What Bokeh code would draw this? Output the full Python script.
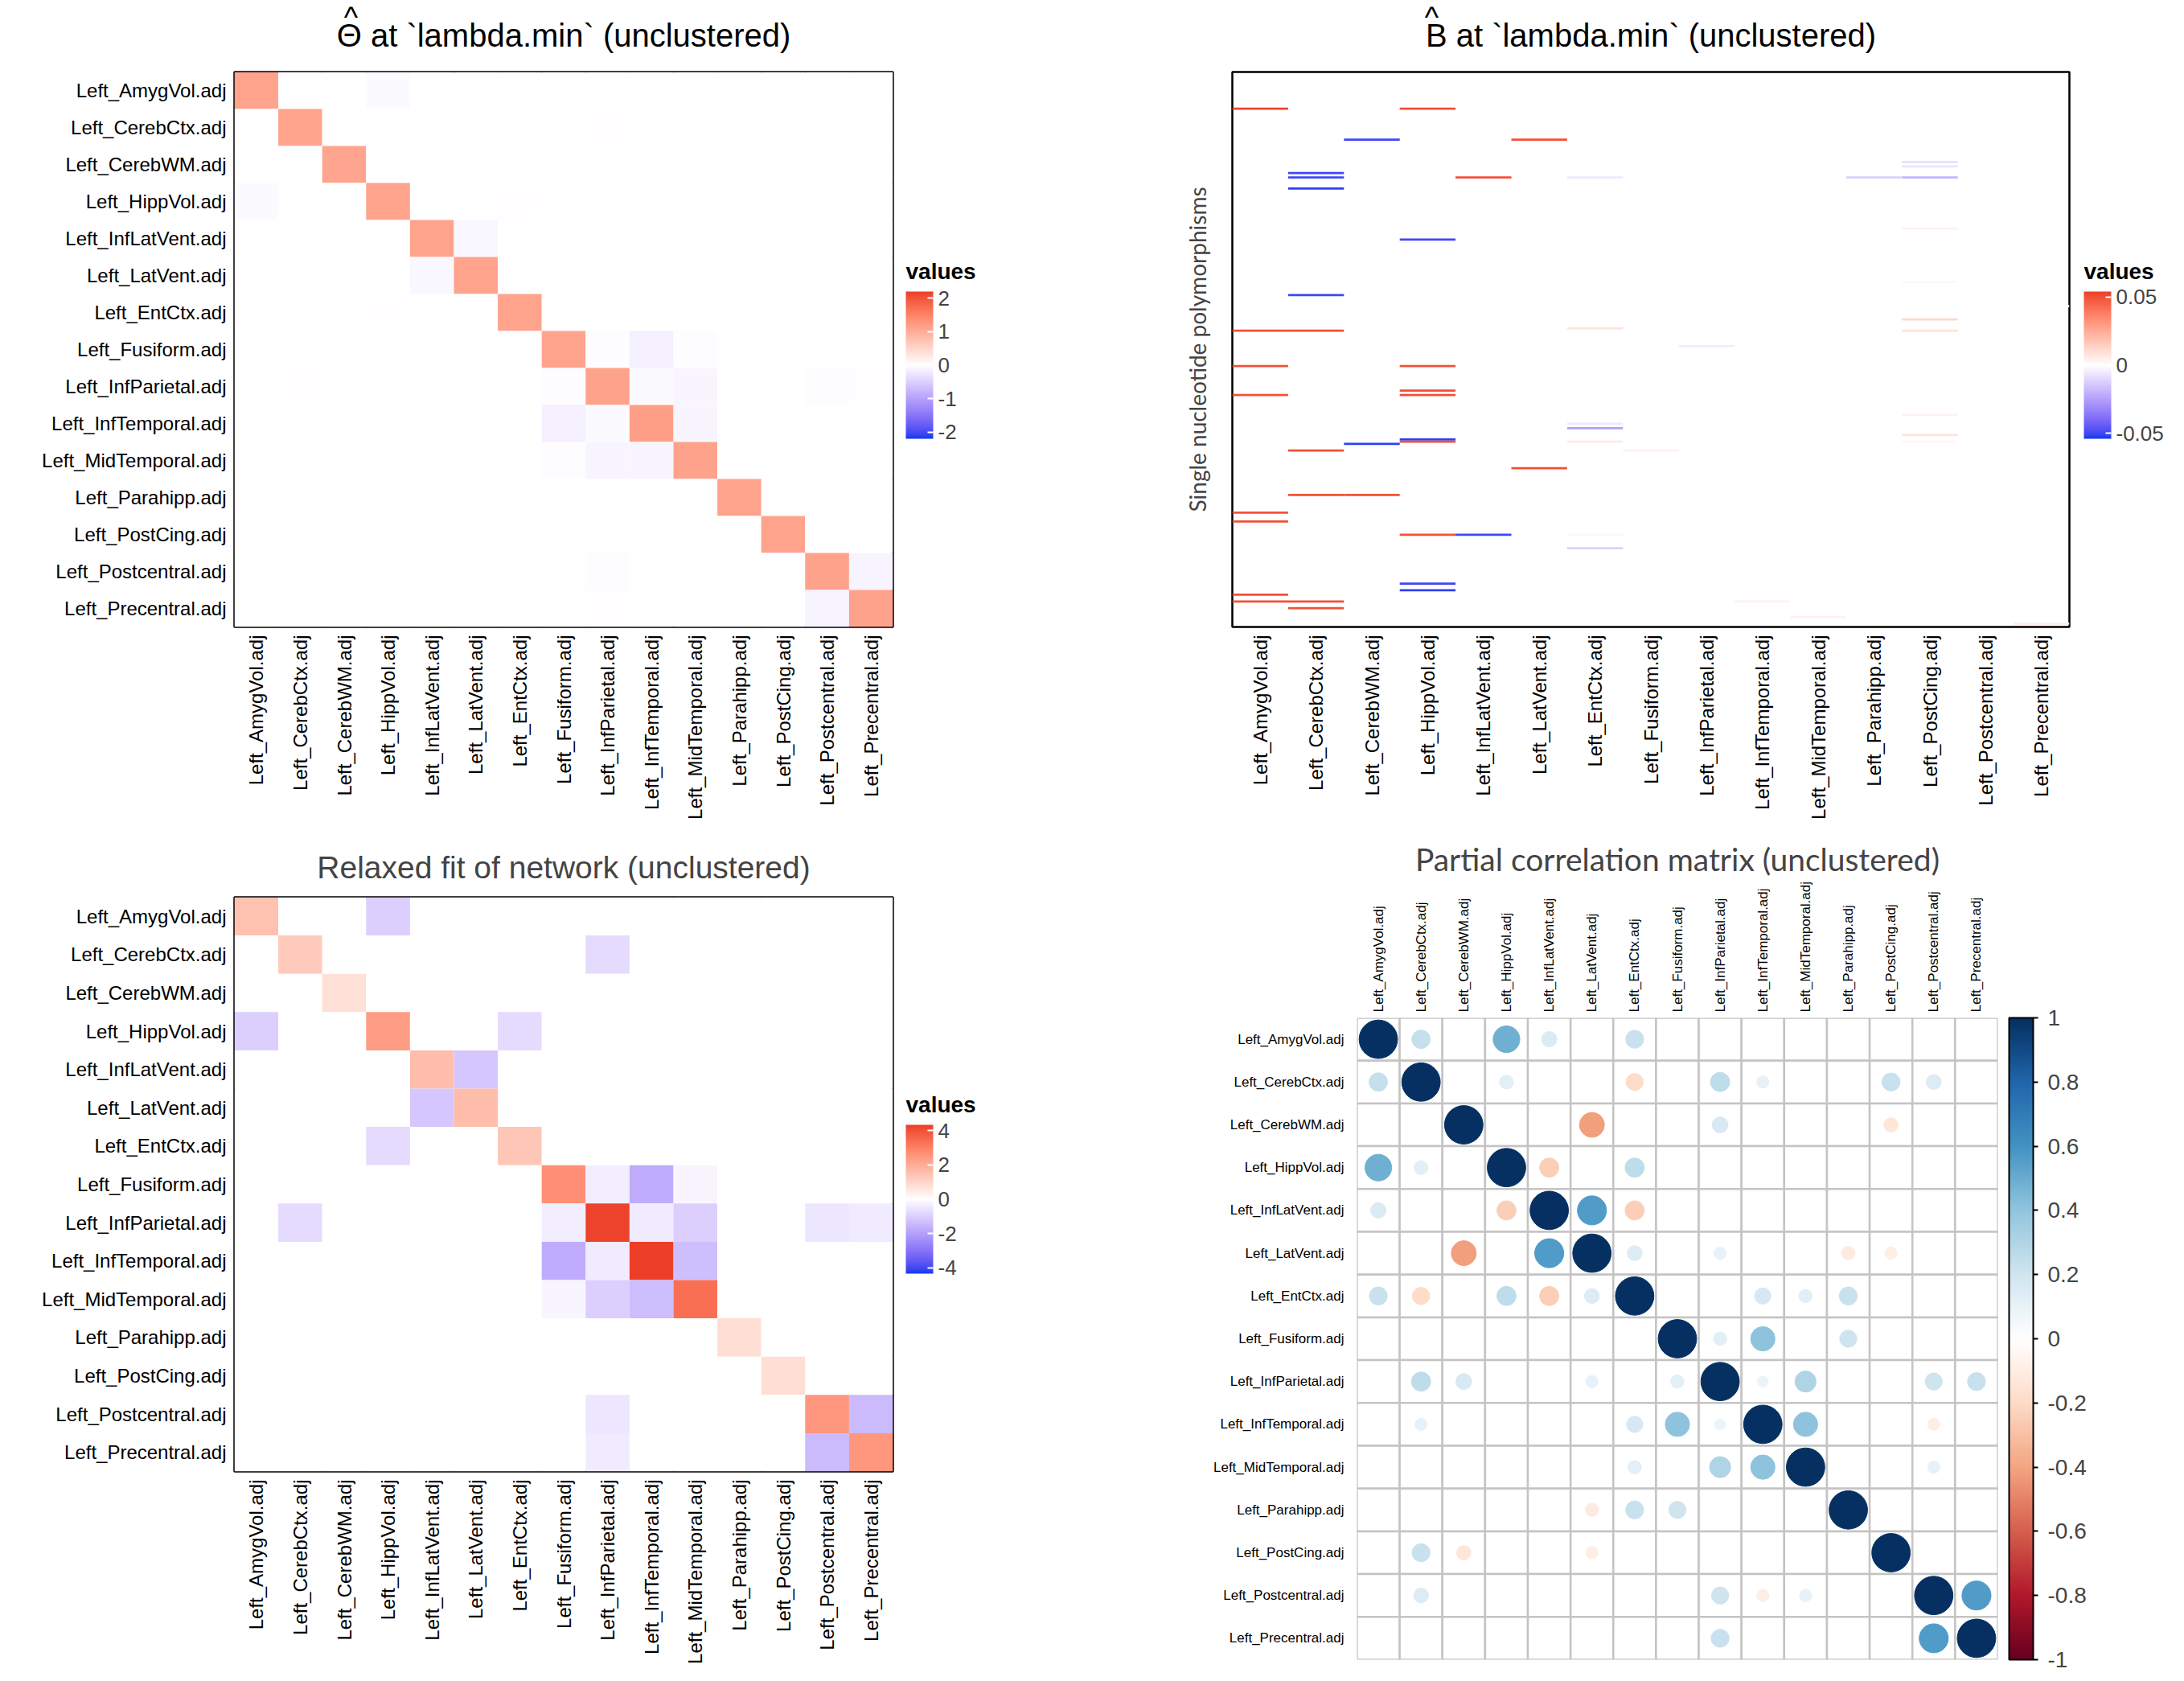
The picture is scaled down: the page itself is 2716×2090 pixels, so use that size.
import numpy as np
from bokeh.plotting import figure
from bokeh.models import (LinearColorMapper, ColorBar, FixedTicker, Range1d,
                          ColumnDataSource)
from bokeh.core.properties import value
from bokeh.layouts import column, row
from bokeh.embed import file_html
from bokeh.resources import INLINE

# ---------------- data ----------------
names = ["Left_AmygVol.adj", "Left_CerebCtx.adj", "Left_CerebWM.adj", "Left_HippVol.adj",
         "Left_InfLatVent.adj", "Left_LatVent.adj", "Left_EntCtx.adj", "Left_Fusiform.adj",
         "Left_InfParietal.adj", "Left_InfTemporal.adj", "Left_MidTemporal.adj",
         "Left_Parahipp.adj", "Left_PostCing.adj", "Left_Postcentral.adj", "Left_Precentral.adj"]

# Theta-hat (precision matrix) at lambda.min
theta_diag = [1.12, 1.12, 1.1, 1.13, 1.12, 1.12, 1.12, 1.13, 1.14, 1.17, 1.14, 1.12, 1.12, 1.14, 1.14]
theta_i = [0, 3, 4, 7, 7, 7, 8, 8, 8, 8, 9, 13, 1]
theta_j = [3, 6, 5, 8, 9, 10, 9, 10, 13, 14, 10, 14, 8]
theta_v = [-0.05, -0.02, -0.08, -0.03, -0.15, -0.04, -0.05, -0.1, -0.03, -0.02, -0.1, -0.12, -0.01]
theta_lim = 2.2
theta_ticks = [-2, -1, 0, 1, 2]

# relaxed fit of network
relax_diag = [1.5, 1.3, 0.75, 2.4, 1.6, 1.6, 1.35, 2.7, 4.25, 4.35, 3.4, 0.8, 0.8, 2.5, 2.5]
relax_i = [0, 1, 3, 4, 7, 7, 7, 8, 8, 8, 8, 9, 13]
relax_j = [3, 8, 6, 5, 8, 9, 10, 9, 10, 13, 14, 10, 14]
relax_v = [-1.0, -0.75, -0.75, -1.15, -0.35, -1.75, -0.2, -0.4, -1.0, -0.5, -0.4, -1.35, -1.45]
relax_lim = 4.35
relax_ticks = [-4, -2, 0, 2, 4]

# B-hat (SNP coefficients) at lambda.min
n_snps = 250
snp_row = [16, 16, 30, 30, 40, 42, 45, 47, 47, 47, 47, 47, 52, 70, 75, 94, 100, 105, 111, 115,
           116, 116, 116, 123, 132, 132, 143, 145, 145, 154, 158, 160, 163, 165, 166, 166, 166,
           167, 170, 170, 178, 190, 190, 198, 202, 208, 208, 208, 214, 230, 233, 235, 238, 238,
           238, 241, 245, 248]
snp_col = [0, 3, 2, 5, 12, 12, 1, 1, 4, 6, 11, 12, 1, 12, 3, 12, 1, 14, 12, 6,
           0, 1, 12, 8, 0, 3, 3, 0, 3, 12, 6, 6, 12, 3, 3, 6, 12,
           2, 1, 7, 5, 1, 2, 0, 0, 3, 4, 6, 6, 3, 3, 0, 0, 1,
           9, 1, 10, 14]
snp_val = [0.052, 0.05, -0.05, 0.05, -0.008, -0.007, -0.05, -0.05, 0.05, -0.006, -0.012, -0.02,
           -0.052, 0.004, -0.05, 0.002, -0.05, 0.001, 0.012, 0.008,
           0.05, 0.05, 0.008, -0.005, 0.05, 0.05, 0.05, 0.05, 0.05, 0.004, -0.006, -0.025, 0.008,
           -0.052, 0.05, 0.006, 0.002,
           -0.052, 0.05, 0.004, 0.05, 0.05, 0.05, 0.05, 0.05, 0.05, -0.05, 0.003, -0.012, -0.05,
           -0.052, 0.05, 0.05, 0.05,
           0.004, 0.05, 0.004, 0.005]
snp_lim = 0.054
snp_ticks = [-0.05, 0, 0.05]
snp_tick_labels = ["-0.05", "0", "0.05"]

# partial correlation matrix (upper triangle pairs)
pcor_i = [0, 0, 0, 0, 1, 1, 1, 1, 1, 1, 2, 2, 2, 3, 3, 4, 4, 5, 5, 5, 5, 6, 6, 6,
          7, 7, 7, 8, 8, 8, 8, 9, 9, 10, 13]
pcor_j = [1, 3, 4, 6, 3, 6, 8, 9, 12, 13, 5, 8, 12, 4, 6, 5, 6, 6, 8, 11, 12, 9, 10, 11,
          8, 9, 11, 9, 10, 13, 14, 10, 13, 13, 14]
pcor_v = [0.23, 0.48, 0.16, 0.22, 0.13, -0.2, 0.25, 0.1, 0.22, 0.15, -0.42, 0.17, -0.14,
          -0.25, 0.25, 0.57, -0.25, 0.15, 0.1, -0.12, -0.1, 0.18, 0.12, 0.22,
          0.12, 0.4, 0.2, 0.08, 0.3, 0.2, 0.22, 0.4, -0.1, 0.1, 0.57]
pcor_ticks = [-1, -0.8, -0.6, -0.4, -0.2, 0, 0.2, 0.4, 0.6, 0.8, 1]
pcor_tick_labels = ["-1", "-0.8", "-0.6", "-0.4", "-0.2", "0", "0.2", "0.4", "0.6", "0.8", "1"]

title_theta = "\u0398 at `lambda.min` (unclustered)"
title_b = "B at `lambda.min` (unclustered)"
title_relax = "Relaxed fit of network (unclustered)"
title_pcor = "Partial correlation matrix (unclustered)"
legend_title = "values"
snp_axis_label = "Single nucleotide polymorphisms"

# ---------------- colour helpers ----------------
_M = np.array([[0.4124564, 0.3575761, 0.1804375],
               [0.2126729, 0.7151522, 0.0721750],
               [0.0193339, 0.1191920, 0.9503041]])
_Minv = np.linalg.inv(_M)
_W = np.array([0.95047, 1.0, 1.08883])


def _hex2rgb(h):
    h = h.lstrip("#")
    return np.array([int(h[k:k + 2], 16) for k in (0, 2, 4)], float)


def _lin(c):
    c = c / 255.0
    return np.where(c <= 0.04045, c / 12.92, ((c + 0.055) / 1.055) ** 2.4)


def _delin(c):
    c = np.clip(c, 0, 1)
    c = np.where(c <= 0.0031308, 12.92 * c, 1.055 * np.power(c, 1 / 2.4) - 0.055)
    return np.clip(np.round(c * 255), 0, 255).astype(int)


def _f(t):
    d = 6 / 29
    return np.where(t > d ** 3, np.cbrt(t), t / (3 * d * d) + 4 / 29)


def _finv(t):
    d = 6 / 29
    return np.where(t > d, t ** 3, 3 * d * d * (t - 4 / 29))


def rgb2lab(h):
    xyz = _M @ _lin(_hex2rgb(h)) / _W
    fx, fy, fz = _f(xyz)
    return np.array([116 * fy - 16, 500 * (fx - fy), 200 * (fy - fz)])


def lab2hex(lab):
    L, a, b = lab
    fy = (L + 16) / 116
    fx = fy + a / 500
    fz = fy - b / 200
    xyz = _finv(np.array([fx, fy, fz])) * _W
    r, g, bb = _delin(_Minv @ xyz)
    return "#%02x%02x%02x" % (r, g, bb)


def diverging_lab(low, high, n=255):
    lw, lh, l0 = rgb2lab(low), rgb2lab(high), rgb2lab("#ffffff")
    out = []
    for k in range(n):
        v = 2 * k / (n - 1) - 1
        if v < 0:
            out.append(lab2hex(l0 + (-v) * (lw - l0)))
        else:
            out.append(lab2hex(l0 + v * (lh - l0)))
    return out


def ramp_rgb(cols, n=200):
    arr = np.array([_hex2rgb(c) for c in cols])
    pos = np.linspace(0, 1, len(cols))
    t = np.linspace(0, 1, n)
    res = np.stack([np.interp(t, pos, arr[:, k]) for k in range(3)], axis=1)
    return ["#%02x%02x%02x" % tuple(int(round(x)) for x in c) for c in res]


BWR = diverging_lab("#0a3af2", "#ec3e28")
RDBU = ramp_rgb(["#67001F", "#B2182B", "#D6604D", "#F4A582", "#FDDBC7", "#FFFFFF",
                 "#D1E5F0", "#92C5DE", "#4393C3", "#2166AC", "#053061"])

AX_FONT = "Liberation Sans"
nv = len(names)


def full_matrix(diag, ii, jj, vv):
    m = np.diag(np.array(diag, float))
    for a, b, v in zip(ii, jj, vv):
        m[a, b] = v
        m[b, a] = v
    return m


def style_axes(p, label_size):
    overrides = {k: names[k] for k in range(nv)}
    for ax in (p.xaxis[0], p.yaxis[0]):
        ax.ticker = FixedTicker(ticks=list(range(nv)))
        ax.major_label_overrides = overrides
        ax.major_label_text_font = AX_FONT
        ax.major_label_text_font_size = label_size
        ax.major_label_text_color = "black"
        ax.axis_line_color = None
        ax.major_tick_line_color = None
        ax.minor_tick_line_color = None
        ax.major_tick_out = 0
        ax.major_tick_in = 0
    p.xgrid.visible = False
    p.ygrid.visible = False


def canvas(w, h):
    """Blank figure in pixel coordinates (top-left origin) for titles / legends."""
    c = figure(width=w, height=h, x_range=Range1d(0, w), y_range=Range1d(h, 0),
               output_backend="svg", toolbar_location=None,
               x_axis_location=None, y_axis_location=None, min_border=0)
    c.outline_line_color = None
    c.background_fill_color = "white"
    c.border_fill_color = "white"
    for g in c.grid:
        g.visible = False
    return c


def txt(c, x, y, s, size, font=AX_FONT, style="normal", align="left"):
    c.text(x=[x], y=[y], text=[s], text_font=value(font), text_font_size=size,
           text_font_style=style, text_align=align, text_baseline="middle",
           text_color="black")


def legend_canvas(w, h, mapper, ticks, labels, bar_x, bar_top, bar_h, title_mid):
    c = canvas(w, h)
    txt(c, bar_x, title_mid, legend_title, "28px", style="bold")
    cb = ColorBar(color_mapper=mapper, ticker=FixedTicker(ticks=ticks),
                  major_label_overrides={t: l for t, l in zip(ticks, labels)},
                  width=34, height=bar_h,
                  major_label_text_font=AX_FONT, major_label_text_font_size="26px",
                  label_standoff=6, major_tick_line_color="white", major_tick_in=7,
                  major_tick_out=0, major_tick_line_width=2,
                  minor_tick_line_color=None, bar_line_color=None,
                  border_line_color=None, background_fill_color=None,
                  padding=0, location=(bar_x, h - bar_top - bar_h))
    c.add_layout(cb)
    return c


def heat_figure(mat, mapper, w, h, ml, mr, mt, mb):
    p = figure(width=w, height=h, x_range=Range1d(-0.5, nv - 0.5), y_range=Range1d(nv - 0.5, -0.5),
               output_backend="svg", toolbar_location=None,
               min_border_left=ml, min_border_right=mr, min_border_top=mt, min_border_bottom=mb)
    xs, ys, vs = [], [], []
    for r in range(nv):
        for c in range(nv):
            xs.append(c)
            ys.append(r)
            vs.append(mat[r, c])
    src = ColumnDataSource(dict(x=xs, y=ys, v=vs))
    p.rect(x="x", y="y", width=1, height=1, source=src,
           fill_color={"field": "v", "transform": mapper}, line_color=None)
    style_axes(p, "24px")
    p.xaxis.major_label_orientation = np.pi / 2
    p.xaxis.major_label_standoff = 10
    p.yaxis.major_label_standoff = 10
    p.outline_line_color = "black"
    p.outline_line_width = 2.5
    return p


theta = full_matrix(theta_diag, theta_i, theta_j, theta_v)
relax = full_matrix(relax_diag, relax_i, relax_j, relax_v)

# ---- Theta panel (top-left) ----
m1 = LinearColorMapper(palette=BWR, low=-theta_lim, high=theta_lim)
t1 = canvas(1112, 85)
txt(t1, 700.5, 43, title_theta, "40px", align="center")
txt(t1, 436, 21, "^", "37px", align="center")
p1 = heat_figure(theta, m1, 1112, 943, 291, 2, 4, 249)
l1 = legend_canvas(296, 1028, m1, theta_ticks, [str(t) for t in theta_ticks], 14, 362, 183, 337)

# ---- B-hat panel (top-right) ----
m2 = LinearColorMapper(palette=BWR, low=-snp_lim, high=snp_lim)
t2 = canvas(1167, 85)
txt(t2, 644.5, 43, title_b, "40px", align="center")
txt(t2, 372, 21, "^", "37px", align="center")
p2 = figure(width=1167, height=943, x_range=Range1d(-0.5, nv - 0.5), y_range=Range1d(n_snps, 0),
            output_backend="svg", toolbar_location=None,
            min_border_left=124, min_border_right=2, min_border_top=4, min_border_bottom=249)
src2 = ColumnDataSource(dict(x=snp_col, y=[r + 0.5 for r in snp_row], v=snp_val))
p2.rect(x="x", y="y", width=1, height=1, source=src2,
        fill_color={"field": "v", "transform": m2}, line_color=None)
style_axes(p2, "24px")
p2.xaxis.major_label_orientation = np.pi / 2
p2.xaxis.major_label_standoff = 10
p2.yaxis.ticker = FixedTicker(ticks=[])
p2.yaxis.major_label_text_font_size = "0px"
p2.yaxis.major_label_standoff = 0
p2.yaxis.axis_label = snp_axis_label
p2.yaxis.axis_label_text_font = "Lato"
p2.yaxis.axis_label_text_font_size = "28px"
p2.yaxis.axis_label_text_font_style = "normal"
p2.yaxis.axis_label_standoff = 27
p2.outline_line_color = "black"
p2.outline_line_width = 2.5
l2 = legend_canvas(141, 1028, m2, snp_ticks, snp_tick_labels, 16, 362, 183, 337)

# ---- Relaxed fit panel (bottom-left) ----
m3 = LinearColorMapper(palette=BWR, low=-relax_lim, high=relax_lim)
p3 = heat_figure(relax, m3, 1112, 1062, 291, 2, 87, 261)
p3.title.text = title_relax
p3.title.text_font = AX_FONT
p3.title.text_font_size = "39px"
p3.title.text_font_style = "normal"
p3.title.align = "center"
p3.title.standoff = 31
l3 = legend_canvas(296, 1062, m3, relax_ticks, [str(t) for t in relax_ticks], 14, 370, 185, 345)

# ---- partial correlation panel (bottom-right) ----
p4 = figure(width=1308, height=1062, x_range=Range1d(-0.5, nv - 0.5), y_range=Range1d(nv - 0.5, -0.5),
            output_backend="svg", toolbar_location=None, x_axis_location="above",
            min_border_left=279, min_border_right=232, min_border_top=237, min_border_bottom=27)
p4.title.text = title_pcor
p4.title.text_font = "Lato"
p4.title.text_font_size = "39px"
p4.title.text_font_style = "normal"
p4.title.align = "center"
p4.title.standoff = 3
pc = full_matrix([1.0] * nv, pcor_i, pcor_j, pcor_v)
gx, gy = [], []
cx, cy, cr, cv = [], [], [], []
for r in range(nv):
    for c in range(nv):
        gx.append(c)
        gy.append(r)
        if pc[r, c] != 0:
            cx.append(c)
            cy.append(r)
            cv.append(pc[r, c])
            cr.append(0.45 * np.sqrt(abs(pc[r, c])))
p4.rect(x=gx, y=gy, width=1, height=1, fill_color="white", line_color="#c4c4c4", line_width=2.5)
m4 = LinearColorMapper(palette=RDBU, low=-1, high=1)
src4 = ColumnDataSource(dict(x=cx, y=cy, r=cr, v=cv))
p4.circle(x="x", y="y", radius="r", source=src4,
          fill_color={"field": "v", "transform": m4},
          line_color={"field": "v", "transform": m4}, line_width=1)
style_axes(p4, "17px")
p4.xaxis.major_label_orientation = np.pi / 2
p4.xaxis.major_label_standoff = 7
p4.yaxis.major_label_standoff = 16
p4.outline_line_color = None
cb4 = ColorBar(color_mapper=m4, ticker=FixedTicker(ticks=pcor_ticks),
               major_label_overrides={t: l for t, l in zip(pcor_ticks, pcor_tick_labels)},
               width=30, height=798, major_label_text_font=AX_FONT,
               major_label_text_font_size="28px", label_standoff=12,
               major_tick_line_color="black", major_tick_in=0, major_tick_out=6,
               major_tick_line_width=2, minor_tick_line_color=None,
               bar_line_color="black", bar_line_width=2,
               border_line_color=None, background_fill_color=None, padding=0,
               location=(14, 0))
p4.add_layout(cb4, "right")

a1 = column(row(t1), row(p1))
a2 = column(row(t2), row(p2))
top = row(column(row(column(a1), column(l1))), column(row(column(a2), column(l2))))
bottom = row(column(row(column(p3), column(l3))), column(p4))
layout = column(row(top), row(bottom))
open("out.html", "w").write(file_html(layout, INLINE))
